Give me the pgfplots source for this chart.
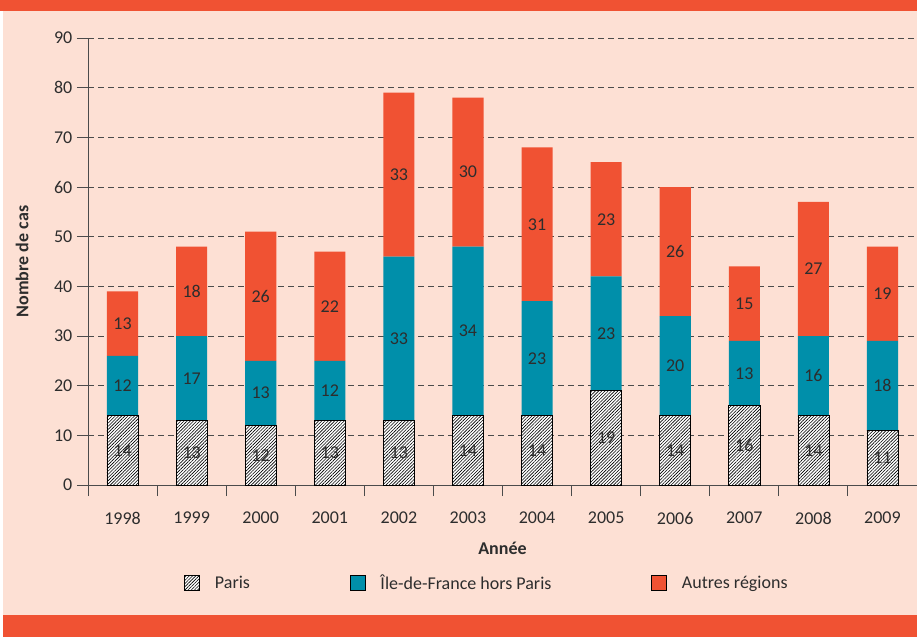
\documentclass[border=0pt]{standalone}
\usepackage{fontspec}
\setmainfont{Carlito}
\usepackage{pgfplots}
\pgfplotsset{compat=1.18}
\usepackage{pgfplotstable}
\usetikzlibrary{patterns.meta}
\definecolor{bgpeach}{RGB}{253,224,212}
\definecolor{orangered}{RGB}{240,82,51}
\definecolor{tealc}{RGB}{0,143,170}
\definecolor{txt}{RGB}{45,45,45}
\definecolor{gridc}{RGB}{75,75,75}
\pgfplotstableread{
x paris idf autres
0 14 12 13
1 13 17 18
2 12 13 26
3 13 12 22
4 13 33 33
5 14 34 30
6 14 23 31
7 19 23 23
8 14 20 26
9 16 13 15
10 14 16 27
11 11 18 19
}\data
\newcommand{\chartfont}{\fontsize{13.5}{15}\selectfont}
\pgfplotsset{
  mygeom/.style={at={(66pt,114pt)}, anchor=south west, scale only axis,
    width=621.75pt, height=335.25pt,
    xmin=-0.5, xmax=11.5, ymin=0, ymax=90},
}
\begin{document}
\begin{tikzpicture}[x=1pt,y=1pt,font=\chartfont]
\useasboundingbox (0,0) rectangle (687.75,477.75);
\fill[white] (0,0) rectangle (687.75,477.75);
\fill[bgpeach] (2.25,0) rectangle (687.75,477.75);
\fill[orangered] (0,469.5) rectangle (687.75,477.75);
\fill[orangered] (2.25,0) rectangle (687.75,16.5);
\begin{axis}[
  mygeom,
  ybar stacked, bar width=0.45,
  xtick={0,...,11},
  xticklabels={1998,1999,2000,2001,2002,2003,2004,2005,2006,2007,2008,2009},
  minor xtick={-0.5,0.5,...,11.5},
  ytick={0,10,...,90},
  axis x line*=bottom, axis y line*=left,
  axis line style={draw=gridc, line width=0.75pt, -},
  tick align=outside,
  major tick length=8.25pt, minor tick length=8.25pt,
  every major x tick/.append style={draw=none},
  every tick/.append style={gridc, line width=0.75pt},
  ymajorgrids,
  grid style={gridc, line width=0.6pt, dash pattern=on 4.5pt off 3pt},
  xticklabel style={anchor=center, yshift=-16.5pt},
  /pgf/number format/assume math mode=true,
  tick label style={font=\chartfont, text=txt},
  xlabel={Année}, ylabel={Nombre de cas},
  every axis x label/.style={at={(axis description cs:0.5,-0.141)}, anchor=center, font=\bfseries\chartfont, text=txt},
  every axis y label/.style={at={(axis description cs:-0.0796,0.5)}, rotate=90, anchor=center, font=\bfseries\chartfont, text=txt},
  legend style={at={(axis description cs:0.48,-0.219)}, anchor=center, draw=none, fill=none,
    legend columns=3, text=txt, font=\chartfont, nodes={inner sep=0pt},
    /tikz/every odd column/.append style={column sep=11.25pt},
    /tikz/every even column/.append style={column sep=75pt}},
  legend image code/.code={\draw[#1] (0pt,-5.6pt) rectangle (11.25pt,5.6pt);},
]
\addplot[fill=white, draw=black, line width=0.5pt,
  postaction={pattern={Lines[angle=45,distance=1.7pt,line width=0.45pt]}}]
  table[x=x, y=paris] {\data};
\addlegendentry{Paris}
\addplot[fill=tealc, draw=none] table[x=x, y=idf] {\data};
\addlegendentry{Île-de-France hors Paris}
\addplot[fill=orangered, draw=none] table[x=x, y=autres] {\data};
\addlegendentry{Autres régions}
\end{axis}
\begin{axis}[
  mygeom, hide axis,
  /pgf/number format/assume math mode=true,
  nodes near coords, point meta=explicit,
  every node near coord/.style={anchor=center, text=txt, font=\chartfont},
]
\addplot[draw=none, mark=none] table[x=x, y expr=\thisrow{paris}/2, meta=paris] {\data};
\addplot[draw=none, mark=none] table[x=x, y expr=\thisrow{paris}+\thisrow{idf}/2, meta=idf] {\data};
\addplot[draw=none, mark=none] table[x=x, y expr=\thisrow{paris}+\thisrow{idf}+\thisrow{autres}/2, meta=autres] {\data};
\end{axis}
\end{tikzpicture}
\end{document}
